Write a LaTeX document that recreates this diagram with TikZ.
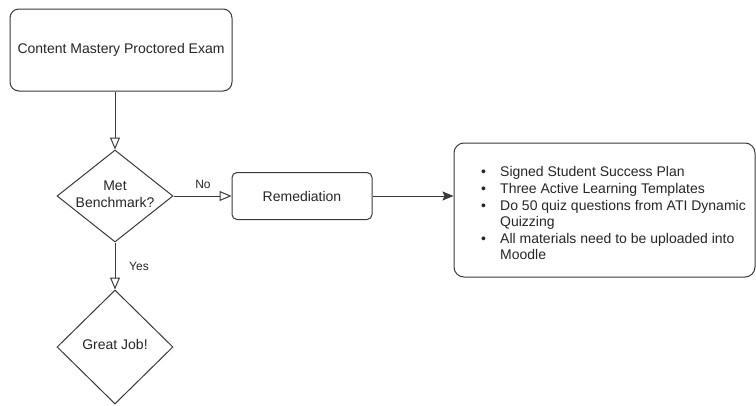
\documentclass[tikz,border=0pt]{standalone}
\usepackage{fontspec}
\setmainfont{Liberation Sans}
\usetikzlibrary{shapes.geometric,arrows.meta}
\definecolor{linec}{HTML}{3A3A3A}
\definecolor{textc}{HTML}{262626}
\begin{document}
\begin{tikzpicture}[x=1pt,y=-1pt,
  every node/.style={text=textc},
  base/.style={draw=linec,line width=1pt,fill=white,inner sep=0pt},
  roundbox/.style={base,rounded corners=#1},
  decision/.style={base,diamond,minimum width=116pt,minimum height=92pt},
  maintext/.style={font=\fontsize{14}{16.8}\selectfont,align=center},
  edgelabel/.style={font=\fontsize{12}{14}\selectfont},
  openarrow/.style={draw=linec,line width=1pt,-{Triangle[open,length=12pt,width=10pt]}},
  fillarrow/.style={draw=linec,line width=1pt,-{Stealth[length=11pt,width=9pt,inset=2pt]}}
]
\useasboundingbox (0,0) rectangle (756,405);
\fill[white] (0,0) rectangle (756,405);

\node[roundbox=9pt,minimum width=222pt,minimum height=82pt,maintext] (exam) at (121,50) {Content Mastery Proctored Exam};

\node[decision,label={[maintext,yshift=2pt]center:Met\\Benchmark?}] (met) at (115,196) {};

\node[roundbox=5pt,minimum width=140pt,minimum height=47pt,maintext] (rem) at (302,196) {Remediation};

\node[roundbox=10pt,minimum width=301pt,minimum height=134pt] (plan) at (604.5,210) {};
\node[anchor=west,inner sep=0pt,font=\fontsize{14}{16.6}\selectfont,text=textc] (plantext) at (481,215) {%
\begin{tabular}{@{}l@{}l@{}}
\makebox[19pt][l]{\textbullet} & Signed Student Success Plan\\
\makebox[19pt][l]{\textbullet} & Three Active Learning Templates\\
\makebox[19pt][l]{\textbullet} & Do 50 quiz questions from ATI Dynamic\\
 & Quizzing\\
\makebox[19pt][l]{\textbullet} & All materials need to be uploaded into\\
 & Moodle
\end{tabular}};

\node[base,diamond,minimum width=116pt,minimum height=114pt,label={[maintext,yshift=3pt]center:Great Job!}] (great) at (115,347) {};

\draw[openarrow] (exam.south -| met.north) -- (met.north);
\draw[openarrow] (met.east) -- (rem.west);
\draw[fillarrow] (rem.east) -- (rem.east -| plan.west);
\draw[openarrow] (met.south) -- (great.north);

\node[edgelabel] (nolab) at (203,184) {No};
\node[edgelabel] (yeslab) at (139,266) {Yes};
\end{tikzpicture}
\end{document}
